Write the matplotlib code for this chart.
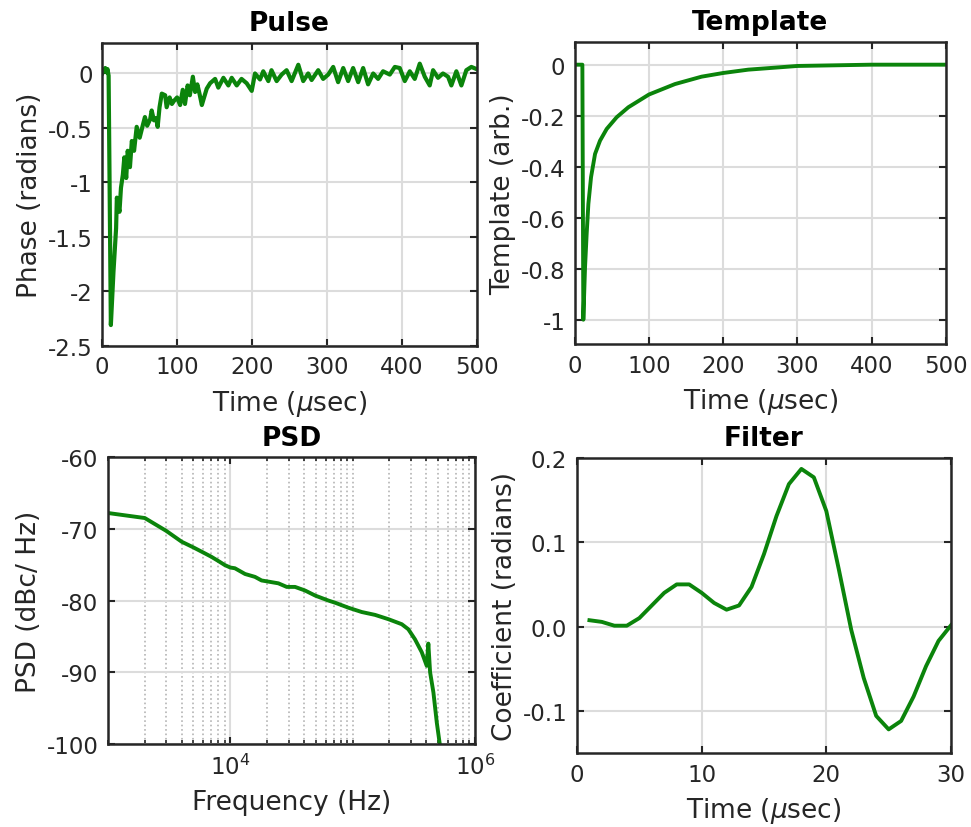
import matplotlib
matplotlib.use("Agg")
import matplotlib.pyplot as plt
from matplotlib.ticker import FuncFormatter, FormatStrFormatter, LogLocator, NullFormatter, FixedLocator
import numpy as np

plt.rcParams['font.family'] = 'DejaVu Sans'
plt.rcParams['mathtext.fontset'] = 'dejavusans'
plt.rcParams['axes.unicode_minus'] = False

GREEN = '#0b840b'
DARK = '#262626'
TICK_FS = 16.5
LAB_FS = 19
LW = 2.8

# pulse (phase vs time)
t_pulse = [0, 2, 4, 6, 7, 8.5, 11.5, 15, 18.5, 19.5, 23, 25, 27.5, 29.5, 32, 34, 37, 39.5,
           42.5, 46, 50, 54, 57, 60, 64, 66, 69, 72, 74, 76.5, 79.5, 84, 86, 90, 93, 96,
           100, 104, 107.5, 110.5, 114, 117, 121, 124, 127, 130, 133, 136, 139.5,
           144, 150.7, 155, 161.8, 168.4, 172.9, 179.6, 186, 192.9, 199.6, 204, 210.7,
           215, 221.8, 226, 232.9, 239.6, 246.2, 252.9, 261.8, 268.4, 275, 279.6, 288.4,
           295, 301.8, 308.4, 315, 321.8, 328.4, 335, 341.8, 348.4, 355, 361.8, 368.4,
           375, 384, 390.7, 397.3, 404, 410.7, 417.3, 424, 430.7, 437.3, 441.8, 448.4,
           455, 461.8, 466.2, 472.9, 479.6, 486.2, 492.9, 500]
ph_pulse = [0.0, 0.03, 0.05, 0.01, 0.04, -0.02, -2.31, -1.82, -1.42, -1.14, -1.27, -1.05,
            -0.93, -0.77, -0.96, -0.71, -0.86, -0.62, -0.71, -0.49, -0.59, -0.48, -0.40,
            -0.48, -0.42, -0.34, -0.43, -0.41, -0.49, -0.31, -0.185, -0.20, -0.31, -0.22,
            -0.28, -0.25, -0.22, -0.29, -0.15, -0.28, -0.11, -0.20, -0.03, -0.17, -0.10,
            -0.19, -0.29, -0.22, -0.14,
            -0.09, -0.05, -0.13, -0.04, -0.11, -0.04, -0.11, -0.05, -0.09, -0.16, 0.0,
            -0.055, 0.02, -0.07, 0.03, -0.07, -0.01, 0.03, -0.07, 0.08, -0.07, 0.0, -0.06,
            0.03, -0.05, -0.01, 0.06, -0.08, 0.05, -0.07, 0.05, -0.08, 0.05, -0.10, 0.0,
            -0.05, 0.02, -0.01, 0.06, 0.05, -0.07, 0.02, -0.05, 0.09, -0.03, -0.11, 0.03,
            -0.04, 0.0, -0.03, -0.11, 0.02, -0.11, 0.03, 0.06, 0.04]

# template
t_tmpl = [0, 5, 9.9, 11.2, 13.5, 15.7, 18, 21.6, 27, 33.7, 42.7, 56.2, 71.9, 99.7, 134.8,
          170.7, 200, 233.6, 269.5, 300, 400, 500]
v_tmpl = [0, 0, 0, -1.0, -0.794, -0.663, -0.546, -0.441, -0.350, -0.298, -0.252, -0.206,
          -0.167, -0.117, -0.076, -0.047, -0.0325, -0.0195, -0.0117, -0.005, 0, 0]

# noise PSD
f_psd = [1000, 2000, 3000, 4000, 5000, 6000, 7000, 8000, 9000, 10000, 10900, 13200,
         15900, 18000, 21100, 24700, 28900, 33800, 40800, 49300, 63300, 71800, 92300,
         118600, 152400, 196000, 252000, 285000, 323000, 367000, 403000, 415500, 429500,
         457000, 487000, 520000]
db_psd = [-67.8, -68.5, -70.3, -71.8, -72.6, -73.3, -73.9, -74.5, -75.05, -75.4, -75.5,
          -76.3, -76.7, -77.2, -77.4, -77.6, -78.1, -78.1, -78.6, -79.3, -80.0, -80.3,
          -81.0, -81.6, -82.0, -82.6, -83.3, -84.0, -85.4, -87.2, -89.1, -86.0, -90.0,
          -92.8, -97.0, -100.5]

# optimal filter coefficients
t_filt = list(range(1, 31))
c_filt = [0.0075, 0.0055, 0.001, 0.001, 0.010, 0.025, 0.040, 0.050, 0.050, 0.040,
          0.028, 0.020, 0.025, 0.047, 0.086, 0.131, 0.169, 0.187, 0.177, 0.137,
          0.068, -0.004, -0.061, -0.106, -0.122, -0.112, -0.083, -0.047, -0.017, 0.0015]

fig = plt.figure(figsize=(9.71, 8.28), dpi=100)
ax1 = fig.add_axes([0.1053, 0.5812, 0.3856, 0.3657])
ax2 = fig.add_axes([0.5922, 0.5834, 0.3818, 0.3650])
ax3 = fig.add_axes([0.1112, 0.1002, 0.3780, 0.3466])
ax4 = fig.add_axes([0.5942, 0.0894, 0.3852, 0.3563])


def style(ax):
    for s in ax.spines.values():
        s.set_color(DARK)
        s.set_linewidth(1.8)
    ax.tick_params(direction='in', top=True, right=True, length=5, width=1.5,
                   colors=DARK, labelsize=TICK_FS, pad=7)
    ax.grid(True, color='#dcdcdc', linewidth=1.5)
    ax.set_axisbelow(True)


def labels(ax, title, xlab, ylab):
    ax.set_title(title, fontsize=LAB_FS, fontweight='bold', pad=9)
    ax.set_xlabel(xlab, fontsize=LAB_FS, color=DARK, labelpad=7)
    ax.set_ylabel(ylab, fontsize=LAB_FS, color=DARK, labelpad=3)


gfmt = FuncFormatter(lambda v, p: '%g' % v)

ax1.plot(t_pulse, ph_pulse, color=GREEN, lw=3.0)
ax1.set_xlim(0, 500)
ax1.set_ylim(-2.5, 0.28)
ax1.set_yticks([0, -0.5, -1, -1.5, -2, -2.5])
ax1.yaxis.set_major_formatter(gfmt)
labels(ax1, 'Pulse', 'Time ($\\mu$sec)', 'Phase (radians)')
style(ax1)

ax2.plot(t_tmpl, v_tmpl, color=GREEN, lw=LW)
ax2.set_xlim(0, 500)
ax2.set_ylim(-1.095, 0.09)
ax2.set_yticks([0, -0.2, -0.4, -0.6, -0.8, -1])
ax2.yaxis.set_major_formatter(gfmt)
labels(ax2, 'Template', 'Time ($\\mu$sec)', 'Template (arb.)')
style(ax2)

ax3.semilogx(f_psd, db_psd, color=GREEN, lw=LW)
ax3.set_xlim(1000, 1e6)
ax3.set_ylim(-100, -60)
ax3.set_yticks([-60, -70, -80, -90, -100])
ax3.yaxis.set_major_formatter(gfmt)
ax3.xaxis.set_major_locator(FixedLocator([1e4, 1e6]))
ax3.xaxis.set_minor_locator(LogLocator(base=10, subs=np.arange(1, 10)))
ax3.xaxis.set_minor_formatter(NullFormatter())
labels(ax3, 'PSD', 'Frequency (Hz)', 'PSD (dBc/ Hz)')
style(ax3)
ax3.tick_params(which='minor', direction='in', top=True, length=3, width=1.2, colors=DARK)
ax3.grid(True, which='minor', axis='x', color='#b4b4b4', linestyle=':', linewidth=1.2)

ax4.plot(t_filt, c_filt, color=GREEN, lw=LW)
ax4.set_xlim(0, 30)
ax4.set_ylim(-0.15, 0.2)
ax4.set_xticks([0, 10, 20, 30])
ax4.set_yticks([-0.1, 0.0, 0.1, 0.2])
ax4.yaxis.set_major_formatter(FormatStrFormatter('%.1f'))
labels(ax4, 'Filter', 'Time ($\\mu$sec)', 'Coefficient (radians)')
style(ax4)

fig.savefig('out.png', dpi=100)
